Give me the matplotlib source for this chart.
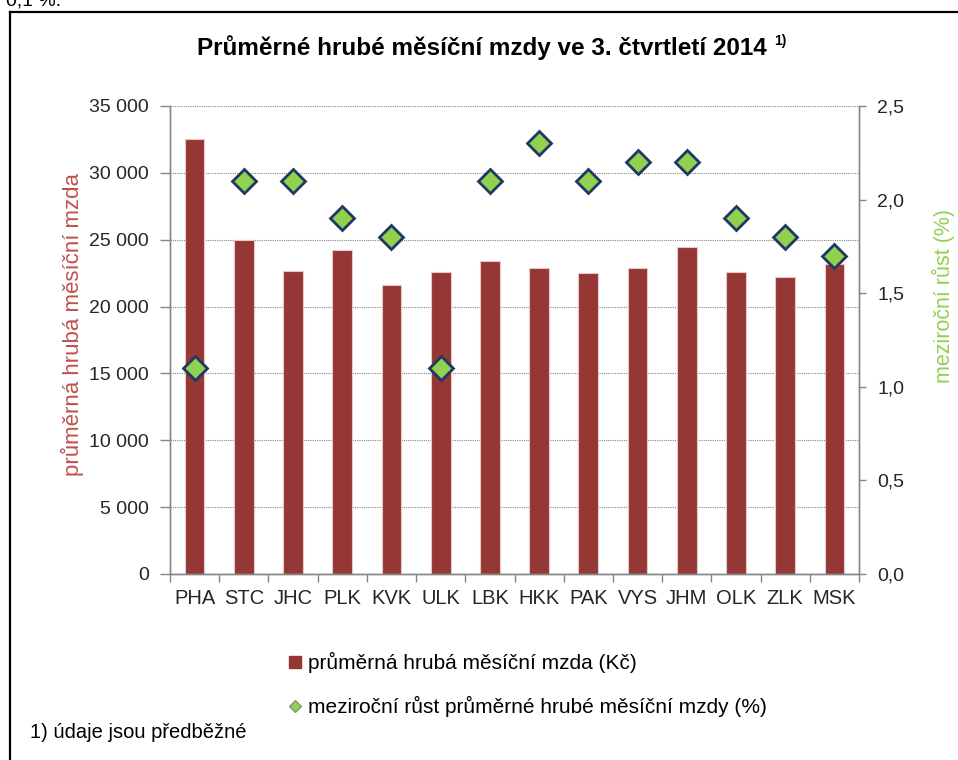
import matplotlib
matplotlib.use("Agg")
import matplotlib.pyplot as plt
from matplotlib.lines import Line2D
from matplotlib.ticker import FixedLocator, FuncFormatter
import numpy as np

plt.rcParams["font.family"] = ["Liberation Sans", "DejaVu Sans"]

# Data
regions = ["PHA", "STC", "JHC", "PLK", "KVK", "ULK", "LBK",
           "HKK", "PAK", "VYS", "JHM", "OLK", "ZLK", "MSK"]
wage = [32530, 24980, 22660, 24210, 21610, 22560, 23430,
        22860, 22510, 22880, 24450, 22580, 22210, 23180]
growth = [1.1, 2.1, 2.1, 1.9, 1.8, 1.1, 2.1,
          2.3, 2.1, 2.2, 2.2, 1.9, 1.8, 1.7]

title = "Průměrné hrubé měsíční mzdy ve 3. čtvrtletí 2014"
title_note = "1)"
ylabel_left = "průměrná hrubá měsíční mzda"
ylabel_right = "meziroční růst (%)"
legend_labels = ["průměrná hrubá měsíční mzda (Kč)",
                 "meziroční růst průměrné hrubé měsíční mzdy (%)"]
footnote = "1) údaje jsou předběžné"

# Colors
COL_BAR = "#953735"
COL_BAR_EDGE = "#E8C8C8"
COL_DIAMOND = "#92D050"
COL_DIAMOND_EDGE = "#1F3864"
COL_AXIS = "#868686"
COL_TEXT = "#262626"
COL_LEFT_LABEL = "#C0504D"
COL_RIGHT_LABEL = "#92D050"

W, H = 958, 760
fig = plt.figure(figsize=(W / 100, H / 100), dpi=100)
fig.patch.set_facecolor("white")

ax = fig.add_axes([170 / W, 1 - 574 / H, (859 - 170) / W, (574 - 106) / H])
ax2 = ax.twinx()

x = np.arange(len(regions))
ax.bar(x, wage, width=0.4, color=COL_BAR, edgecolor=COL_BAR_EDGE,
       linewidth=0.8, zorder=2)
ax.set_xlim(-0.5, len(regions) - 0.5)
ax.set_ylim(0, 35000)
ax.set_yticks(np.arange(0, 35001, 5000))
ax.yaxis.set_major_formatter(FuncFormatter(lambda v, p: f"{int(v):,}".replace(",", " ")))
ax.grid(axis="y", which="major", color=COL_AXIS, linestyle=(0, (1, 1)),
        linewidth=0.8, zorder=0)
ax.set_axisbelow(True)

ax.set_xticks(x)
ax.set_xticklabels(regions, fontsize=14.5, color=COL_TEXT)
ax.xaxis.set_minor_locator(FixedLocator(np.arange(-0.5, len(regions), 1)))
ax.tick_params(axis="x", which="major", length=0, pad=11)
ax.tick_params(axis="x", which="minor", length=6, color=COL_AXIS, width=1)
ax.tick_params(axis="y", length=7, color=COL_AXIS, width=1,
               labelsize=14, labelcolor=COL_TEXT, pad=8)

ax2.plot(x, growth, linestyle="none", marker="D", markersize=12.5,
         markerfacecolor=COL_DIAMOND, markeredgecolor=COL_DIAMOND_EDGE,
         markeredgewidth=2, zorder=3, clip_on=False)
ax2.set_ylim(0, 2.5)
ax2.set_yticks(np.arange(0, 2.51, 0.5))
ax2.yaxis.set_major_formatter(FuncFormatter(lambda v, p: f"{v:.1f}".replace(".", ",")))
ax2.tick_params(axis="y", length=5, color=COL_AXIS, width=1,
                labelsize=14, labelcolor=COL_TEXT, pad=8)

for a in (ax, ax2):
    a.spines["top"].set_visible(False)
    for s in ("left", "right", "bottom"):
        a.spines[s].set_color(COL_AXIS)
        a.spines[s].set_linewidth(1)

# Axis titles
fig.text(72 / W, 1 - 324 / H, ylabel_left, rotation=90, ha="center",
         va="center", fontsize=16, color=COL_LEFT_LABEL)
fig.text(943 / W, 1 - 296 / H, ylabel_right, rotation=90, ha="center",
         va="center", fontsize=15.5, color=COL_RIGHT_LABEL)

# Title with superscript note
t = fig.text(482 / W, 1 - 48 / H, title, ha="center", va="center",
             fontsize=17.5, fontweight="bold", color="black")
fig.text(0, 0, "")
ax.annotate(title_note, xy=(1, 1), xycoords=t, xytext=(5, 1),
            textcoords="offset points", ha="left", va="top",
            fontsize=10, fontweight="bold", color="black")

# Legend
handles = [
    Line2D([], [], marker="s", linestyle="none", markersize=9,
           markerfacecolor=COL_BAR, markeredgecolor=COL_BAR),
    Line2D([], [], marker="D", linestyle="none", markersize=6,
           markerfacecolor=COL_DIAMOND, markeredgecolor="#7F7F7F",
           markeredgewidth=0.8),
]
fig.legend(handles, legend_labels, loc="upper left",
           bbox_to_anchor=(278 / W, 1 - 644 / H), frameon=False,
           fontsize=15, handlelength=0.8, handletextpad=0.25,
           labelspacing=1.1, borderaxespad=0, labelcolor="black")

# Footnote
fig.text(30 / W, 1 - 733 / H, footnote, ha="left", va="center",
         fontsize=14.5, color="black")

# Frame around the chart
fig.add_artist(Line2D([10 / W, 10 / W], [0, 1 - 12 / H], color="black",
                      linewidth=1.6, transform=fig.transFigure))
fig.add_artist(Line2D([10 / W, 1], [1 - 12 / H, 1 - 12 / H], color="black",
                      linewidth=1.6, transform=fig.transFigure))

# Clipped text from the page above the chart
fig.text(6 / W, 1 - 5 / H, "0,1 %.", ha="left", va="baseline",
         fontsize=14, color="black")

fig.savefig("out.png", dpi=100)
